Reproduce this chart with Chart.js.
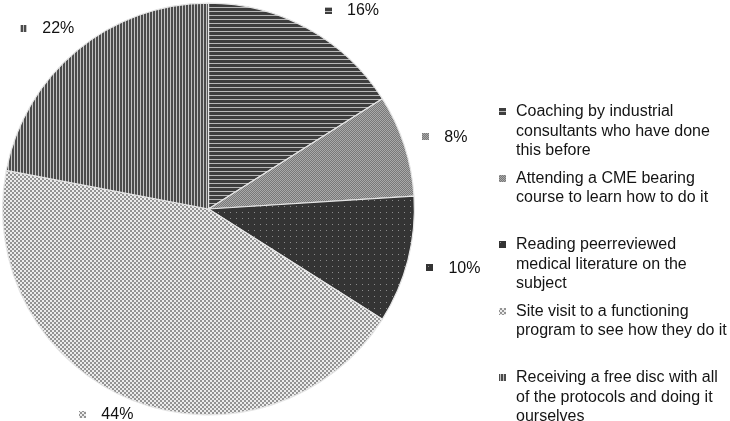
<!DOCTYPE html>
<html>
<head>
<meta charset="utf-8">
<script src="https://cdn.jsdelivr.net/npm/chart.js@4/dist/chart.umd.min.js"></script>
<style>
  html, body { margin: 0; padding: 0; background: #fff; }
  #wrap { width: 730px; height: 421px; }
</style>
</head>
<body>
<div id="wrap"><canvas id="myChart" width="730" height="421"></canvas></div>
<script>
// categories (already split into the lines shown in the legend)
const categories = [
  ['Coaching by industrial', 'consultants who have done', 'this before'],
  ['Attending a CME bearing', 'course to learn how to do it'],
  ['Reading peerreviewed', 'medical literature on the', 'subject'],
  ['Site visit to a functioning', 'program to see how they do it'],
  ['Receiving a free disc with all', 'of the protocols and doing it', 'ourselves']
];
const shares = [16, 8, 10, 44, 22];
const shareLabels = ['16%', '8%', '10%', '44%', '22%'];

const FONT = '16px "Liberation Sans", Arial, Helvetica, sans-serif';

// small repeating fills like the print-style patterns of the original
const makePattern = (size, draw) => {
  const c = document.createElement('canvas');
  c.width = size;
  c.height = size;
  const g = c.getContext('2d');
  draw(g, size);
  return g.createPattern(c, 'repeat');
};

const patterns = [
  // horizontal stripes
  makePattern(4, (g, s) => {
    g.fillStyle = '#3e3e3e'; g.fillRect(0, 0, s, s);
    g.fillStyle = '#b8b8b8'; g.fillRect(0, 3, s, 1);
  }),
  // fine grey checker
  makePattern(2, (g, s) => {
    g.fillStyle = '#787878'; g.fillRect(0, 0, s, s);
    g.fillStyle = '#a9a9a9'; g.fillRect(0, 0, 1, 1); g.fillRect(1, 1, 1, 1);
  }),
  // dark with dots
  makePattern(6, (g, s) => {
    g.fillStyle = '#343434'; g.fillRect(0, 0, s, s);
    g.fillStyle = '#8c8c8c'; g.fillRect(2, 2, 1, 1);
  }),
  // light checker
  makePattern(4, (g, s) => {
    g.fillStyle = '#ececec'; g.fillRect(0, 0, s, s);
    g.fillStyle = '#939393'; g.fillRect(0, 0, 2, 2); g.fillRect(2, 2, 2, 2);
  }),
  // vertical stripes
  makePattern(3, (g, s) => {
    g.fillStyle = '#4b4b4b'; g.fillRect(0, 0, s, s);
    g.fillStyle = '#c2c2c2'; g.fillRect(2, 0, 1, s);
  })
];

// percent labels outside the slices, each with a small pattern swatch
const outsideLabels = {
  id: 'outsideLabels',
  afterDatasetsDraw(chart) {
    const ctx = chart.ctx;
    const meta = chart.getDatasetMeta(0);
    ctx.save();
    ctx.font = FONT;
    ctx.textBaseline = 'middle';
    meta.data.forEach((arc, i) => {
      const p = arc.getProps(['x', 'y', 'startAngle', 'endAngle', 'outerRadius'], true);
      const mid = (p.startAngle + p.endAngle) / 2;
      const cos = Math.cos(mid), sin = Math.sin(mid);
      const dist = p.outerRadius + 20;
      const text = shareLabels[i];
      const w = 22 + ctx.measureText(text).width;
      const h = 18;
      let cx = p.x + cos * dist + cos * w / 2;
      let cy = p.y + sin * dist + sin * h / 2;
      const minY = h / 2 + 1, maxY = chart.height - h / 2 + 2;
      if (cy < minY || cy > maxY) {
        cy = Math.min(Math.max(cy, minY), maxY);
        // slide along the edge so the nearest corner keeps a gap from the pie
        const top = cy < p.y;
        const d = p.outerRadius + (top ? 17 : 4);
        const edgeY = top ? cy + h / 2 : cy - h / 2;
        const dy = edgeY - p.y;
        const dx = Math.sqrt(Math.max(d * d - dy * dy, 0));
        cx = cos >= 0 ? p.x + dx + w / 2 : p.x - dx - w / 2;
      }
      const left = cx - w / 2;
      ctx.fillStyle = patterns[i];
      ctx.fillRect(Math.round(left), Math.round(cy - 3.5), 7, 7);
      ctx.fillStyle = '#111';
      ctx.textAlign = 'left';
      ctx.fillText(text, left + 22, cy + 1);
    });
    ctx.restore();
  }
};

// legend at the right with wrapped lines
const sideLegend = {
  id: 'sideLegend',
  afterDraw(chart) {
    const ctx = chart.ctx;
    ctx.save();
    ctx.font = FONT;
    ctx.textBaseline = 'middle';
    ctx.textAlign = 'left';
    categories.forEach((lines, i) => {
      const y = 111 + i * 66.5;
      ctx.fillStyle = patterns[i];
      ctx.fillRect(499, Math.round(y - 3), 7, 7);
      ctx.fillStyle = '#141414';
      lines.forEach((line, j) => {
        ctx.fillText(line, 516, y + 1 + j * 19.4);
      });
    });
    ctx.restore();
  }
};

const ctx = document.getElementById('myChart');
const myChart = new Chart(ctx, {
  type: 'pie',
  data: {
    labels: categories,
    datasets: [
      {
        data: shares,
        backgroundColor: patterns,
        borderColor: '#e6e6e6',
        borderWidth: 1.2
      }
    ]
  },
  options: {
    responsive: false,
    animation: false,
    devicePixelRatio: 1,
    layout: {
      padding: { left: 2, top: 2, right: 315, bottom: 5 }
    },
    plugins: {
      legend: { display: false },
      tooltip: { enabled: false }
    }
  },
  plugins: [outsideLabels, sideLegend]
});
</script>
</body>
</html>
